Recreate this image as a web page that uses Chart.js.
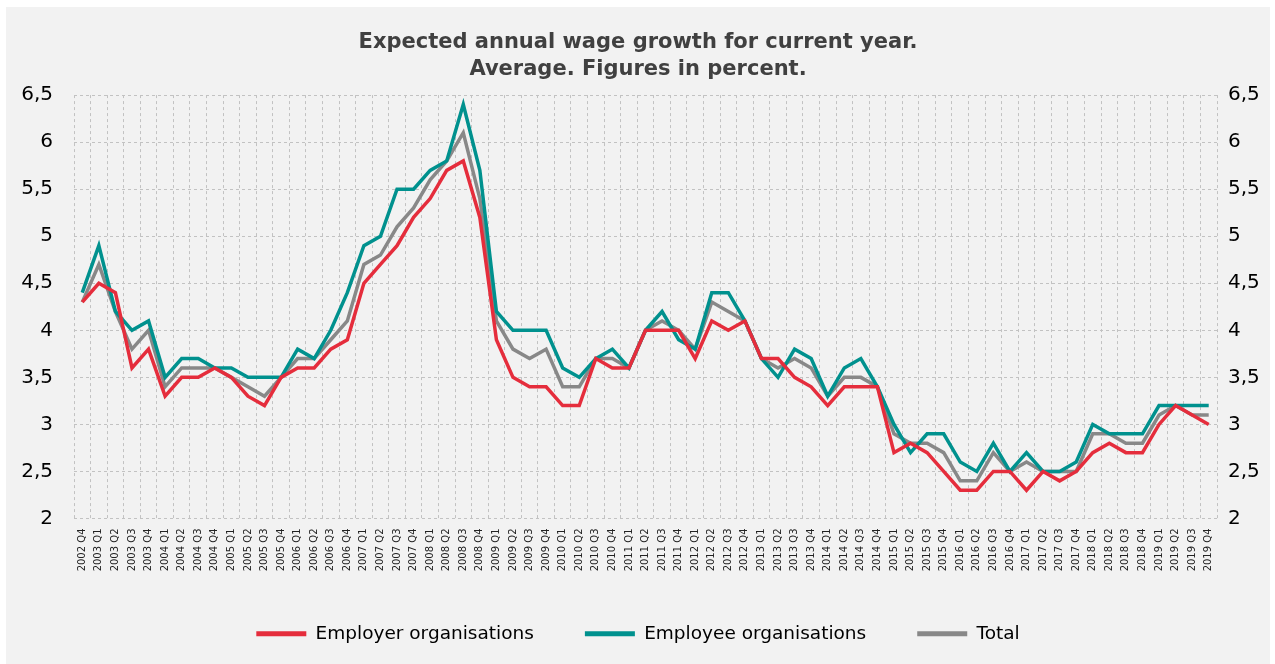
<!DOCTYPE html>
<html>
<head>
<meta charset="utf-8">
<script src="https://cdn.jsdelivr.net/npm/chart.js@4/dist/chart.umd.min.js"></script>
<style>
    body { margin: 0; background: #ffffff; }
    #wrap { position: absolute; left: 6px; top: 7px; width: 1264px; height: 657px; background: #f2f2f2; }
</style>
</head>
<body>
<div id="wrap"><canvas id="WageChart"></canvas></div>
<script>
const quarters = [
    "2002 Q4",
    "2003 Q1", "2003 Q2", "2003 Q3", "2003 Q4",
    "2004 Q1", "2004 Q2", "2004 Q3", "2004 Q4",
    "2005 Q1", "2005 Q2", "2005 Q3", "2005 Q4",
    "2006 Q1", "2006 Q2", "2006 Q3", "2006 Q4",
    "2007 Q1", "2007 Q2", "2007 Q3", "2007 Q4",
    "2008 Q1", "2008 Q2", "2008 Q3", "2008 Q4",
    "2009 Q1", "2009 Q2", "2009 Q3", "2009 Q4",
    "2010 Q1", "2010 Q2", "2010 Q3", "2010 Q4",
    "2011 Q1", "2011 Q2", "2011 Q3", "2011 Q4",
    "2012 Q1", "2012 Q2", "2012 Q3", "2012 Q4",
    "2013 Q1", "2013 Q2", "2013 Q3", "2013 Q4",
    "2014 Q1", "2014 Q2", "2014 Q3", "2014 Q4",
    "2015 Q1", "2015 Q2", "2015 Q3", "2015 Q4",
    "2016 Q1", "2016 Q2", "2016 Q3", "2016 Q4",
    "2017 Q1", "2017 Q2", "2017 Q3", "2017 Q4",
    "2018 Q1", "2018 Q2", "2018 Q3", "2018 Q4",
    "2019 Q1", "2019 Q2", "2019 Q3", "2019 Q4"
];

const employer = [
    4.3,
    4.5, 4.4, 3.6, 3.8,
    3.3, 3.5, 3.5, 3.6,
    3.5, 3.3, 3.2, 3.5,
    3.6, 3.6, 3.8, 3.9,
    4.5, 4.7, 4.9, 5.2,
    5.4, 5.7, 5.8, 5.2,
    3.9, 3.5, 3.4, 3.4,
    3.2, 3.2, 3.7, 3.6,
    3.6, 4.0, 4.0, 4.0,
    3.7, 4.1, 4.0, 4.1,
    3.7, 3.7, 3.5, 3.4,
    3.2, 3.4, 3.4, 3.4,
    2.7, 2.8, 2.7, 2.5,
    2.3, 2.3, 2.5, 2.5,
    2.3, 2.5, 2.4, 2.5,
    2.7, 2.8, 2.7, 2.7,
    3.0, 3.2, 3.1, 3.0
];

const employee = [
    4.4,
    4.9, 4.2, 4.0, 4.1,
    3.5, 3.7, 3.7, 3.6,
    3.6, 3.5, 3.5, 3.5,
    3.8, 3.7, 4.0, 4.4,
    4.9, 5.0, 5.5, 5.5,
    5.7, 5.8, 6.4, 5.7,
    4.2, 4.0, 4.0, 4.0,
    3.6, 3.5, 3.7, 3.8,
    3.6, 4.0, 4.2, 3.9,
    3.8, 4.4, 4.4, 4.1,
    3.7, 3.5, 3.8, 3.7,
    3.3, 3.6, 3.7, 3.4,
    3.0, 2.7, 2.9, 2.9,
    2.6, 2.5, 2.8, 2.5,
    2.7, 2.5, 2.5, 2.6,
    3.0, 2.9, 2.9, 2.9,
    3.2, 3.2, 3.2, 3.2
];

const total = [
    4.3,
    4.7, 4.2, 3.8, 4.0,
    3.4, 3.6, 3.6, 3.6,
    3.5, 3.4, 3.3, 3.5,
    3.7, 3.7, 3.9, 4.1,
    4.7, 4.8, 5.1, 5.3,
    5.6, 5.8, 6.1, 5.4,
    4.1, 3.8, 3.7, 3.8,
    3.4, 3.4, 3.7, 3.7,
    3.6, 4.0, 4.1, 4.0,
    3.8, 4.3, 4.2, 4.1,
    3.7, 3.6, 3.7, 3.6,
    3.3, 3.5, 3.5, 3.4,
    2.9, 2.8, 2.8, 2.7,
    2.4, 2.4, 2.7, 2.5,
    2.6, 2.5, 2.5, 2.5,
    2.9, 2.9, 2.8, 2.8,
    3.1, 3.2, 3.1, 3.1
];

const seriesNames = ["Employer organisations", "Employee organisations", "Total"];
const titleLines = ["Expected annual wage growth for current year.", "Average. Figures in percent."];

function CreateChart() {
    const ctx = document.getElementById('WageChart');
    const gridColor = "#c2c2c2";
    const commaTick = (v) => String(v).replace('.', ',');

    const yAxis = (pos, pad, width) => ({
        type: 'linear',
        position: pos,
        min: 2,
        max: 6.5,
        grid: {
            display: pos === 'left',
            color: gridColor,
            lineWidth: 1,
            drawTicks: false,
        },
        border: { display: false, dash: [3, 3] },
        ticks: {
            stepSize: 0.5,
            padding: pad,
            color: "#000000",
            font: { family: "DejaVu Sans", size: 20 },
            callback: commaTick,
        },
        afterFit: (scale) => { scale.width = width; },
    });

    new Chart(ctx, {
        type: 'line',
        data: {
            labels: quarters,
            datasets: [
                {
                    label: seriesNames[0],
                    data: employer,
                    borderColor: "#e52d3c",
                    backgroundColor: "#e52d3c",
                },
                {
                    label: seriesNames[1],
                    data: employee,
                    borderColor: "#00918e",
                    backgroundColor: "#00918e",
                },
                {
                    label: seriesNames[2],
                    data: total,
                    borderColor: "#888888",
                    backgroundColor: "#888888",
                },
            ]
        },
        options: {
            responsive: true,
            maintainAspectRatio: false,
            animation: false,
            layout: { padding: { bottom: 11 } },
            elements: {
                line: { borderWidth: 3.5, tension: 0, fill: false, borderJoinStyle: 'miter' },
                point: { radius: 0, hoverRadius: 0 },
            },
            plugins: {
                title: {
                    display: true,
                    text: titleLines,
                    color: "#404040",
                    font: { family: "DejaVu Sans", size: 21, weight: 'bold', lineHeight: 1.24 },
                    padding: { top: 23, bottom: 13 },
                },
                legend: {
                    position: 'bottom',
                    labels: {
                        boxWidth: 50,
                        boxHeight: 5,
                        padding: 51,
                        color: "#000000",
                        font: { family: "DejaVu Sans", size: 18.5 },
                        generateLabels: (chart) => {
                            const items = Chart.defaults.plugins.legend.labels.generateLabels(chart);
                            items.forEach((it) => { it.lineWidth = 0; it.fillStyle = it.strokeStyle; });
                            return items;
                        },
                    },
                },
                tooltip: { enabled: false },
            },
            scales: {
                x: {
                    offset: true,
                    grid: {
                        offset: true,
                        color: gridColor,
                        lineWidth: 1,
                        drawTicks: false,
                    },
                    border: { display: false, dash: [3, 3] },
                    ticks: {
                        autoSkip: false,
                        minRotation: 90,
                        maxRotation: 90,
                        padding: 10,
                        color: "#222222",
                        font: { family: "DejaVu Sans", size: 10 },
                    },
                    afterFit: (scale) => { scale.height = 55; },
                },
                y: yAxis('left', 21, 68),
                y2: yAxis('right', 11, 53),
            }
        }
    });
}

CreateChart();
</script>
</body>
</html>
